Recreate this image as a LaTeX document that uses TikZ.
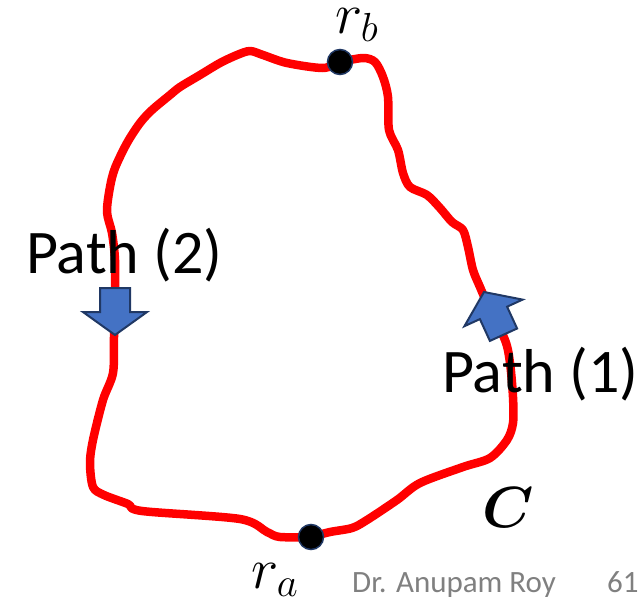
\RequirePackage{fix-cm}
\documentclass[tikz,border=0pt]{standalone}
\usepackage{amsmath}
\usepackage{fontspec}
\setmainfont{Carlito}
\usetikzlibrary{backgrounds}
\definecolor{pathred}{RGB}{255,0,0}
\definecolor{arrowfill}{RGB}{68,114,196}
\definecolor{arrowedge}{RGB}{32,56,100}
\definecolor{footgray}{RGB}{128,128,128}
\begin{document}
\begin{tikzpicture}[x=1pt,y=-1pt,
    curve/.style={draw=pathred,line width=8.5pt,line cap=round,line join=round},
    endpoint/.style={circle,fill=black,draw=arrowedge,line width=1.5pt,inner sep=0pt,minimum size=25pt},
    blockarrow/.style={fill=arrowfill,draw=arrowedge,line width=2pt,line join=miter},
    label/.style={inner sep=0pt,anchor=base west,font=\fontsize{62}{74}\selectfont},
    mathlabel/.style={inner sep=0pt,anchor=base west,font=\fontsize{58}{70}\selectfont},
    footer/.style={inner sep=0pt,anchor=base west,text=footgray,font=\fontsize{31}{37}\selectfont}]
    \useasboundingbox (0,0) rectangle (643,600);

    \node[endpoint] (rb) at (340,62) {};
    \node[endpoint] (ra) at (311,537) {};

    \begin{scope}[on background layer]
    % path (1), right side
    \draw[curve] plot[smooth] coordinates {(rb.center) (363,58) (375,62) (383,77) (388,97)
        (389,130) (398,150) (403,173) (410,187) (427,195) (440,208) (452,222) (463,230)
        (468,247) (473,270) (480,287) (487,303) (505,340) (510,363) (513,397) (513,423)
        (507,440) (490,458) (463,467) (420,483) (397,500) (367,520) (352,528) (330,532)
        (ra.center)};
    % path (2), left side
    \draw[curve] plot[smooth] coordinates {(rb.center) (323,68) (287,63) (263,55) (250,51)
        (237,55) (220,63) (200,75) (180,87) (170,95) (152,110) (140,123) (127,143)
        (115,168) (110,187) (107,212) (112,233) (115,260) (115,300) (114,337) (113,373)
        (103,400) (93,440) (90,463) (93,487) (104,495) (128,504) (142,511) (240,519)
        (267,532) (280,537) (ra.center)};
    \end{scope}

    % direction arrows
    \draw[blockarrow] (100,288) -- (130,288) -- (130,312) -- (147,312) -- (115,335)
        -- (83,312) -- (100,312) -- cycle;
    \draw[blockarrow] (484,292) -- (522.6,299.6) -- (507.1,306.7) -- (517.1,328.5)
        -- (489.9,340.9) -- (479.9,319.1) -- (464.4,326.2) -- cycle;

    \node[label] (p2) at (26,273) {Path (2)};
    \node[label] (p1) at (442,392) {Path (1)};
    \node[mathlabel] (lb) at (335,33) {$r_b$};
    \node[mathlabel] (la) at (251,588) {$r_a$};
    \node[mathlabel] (lc) at (482,527) {$\boldsymbol{C}$};
    \node[footer] (name) at (352,592) {Dr. Anupam Roy};
    \node[footer] (page) at (607,592) {61};
\end{tikzpicture}
\end{document}
